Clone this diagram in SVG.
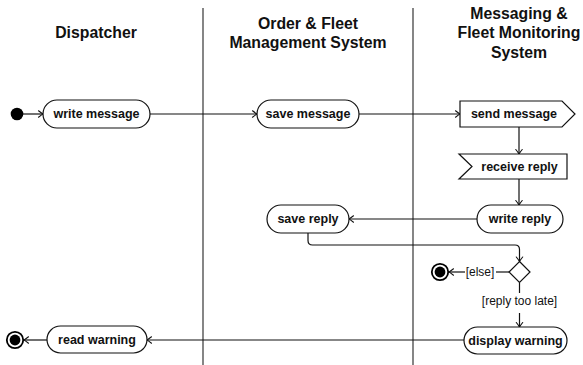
<svg xmlns="http://www.w3.org/2000/svg" width="583" height="365" viewBox="0 0 583 365">
  <style>
    .lane { stroke: #222; stroke-width: 1.1; }
    .title { font-family: "Liberation Sans", Arial, sans-serif; font-weight: bold; font-size: 15.8px; fill: #111; text-anchor: middle; }
    .act { fill: #fff; stroke: #111; stroke-width: 1.2; }
    .lbl { font-family: "Liberation Sans", Arial, sans-serif; font-weight: bold; font-size: 12.5px; fill: #111; text-anchor: middle; dominant-baseline: central; }
    .guard { font-family: "Liberation Sans", Arial, sans-serif; font-size: 12px; fill: #111; text-anchor: middle; dominant-baseline: central; }
    .edge { fill: none; stroke: #111; stroke-width: 1.2; }
    .arr { marker-end: url(#tip); }
  </style>
  <defs>
    <marker id="tip" markerUnits="userSpaceOnUse" markerWidth="10" markerHeight="10" viewBox="-6 -5 8 10" refX="0" refY="0" orient="auto">
      <path d="M-4.5,-3.2 Q-1.2,-0.6 0,0 Q-1.2,0.6 -4.5,3.2" fill="none" stroke="#111" stroke-width="1.1" stroke-linecap="round"/>
    </marker>
  </defs>

  <rect width="583" height="365" fill="#fff"/>

  <!-- swimlanes -->
  <g id="lanes">
    <line class="lane" x1="203" y1="8" x2="203" y2="365"/>
    <line class="lane" x1="413" y1="8" x2="413" y2="365"/>
    <text class="title" x="96" y="38">Dispatcher</text>
    <text class="title" x="308" y="28.5">Order &amp; Fleet</text>
    <text class="title" x="308" y="47.5">Management System</text>
    <text class="title" x="519" y="18.5">Messaging &amp;</text>
    <text class="title" x="519" y="38">Fleet Monitoring</text>
    <text class="title" x="519" y="57.5">System</text>
  </g>

  <!-- connectors -->
  <g id="connectors">
    <path class="edge arr" d="M23,114 H43"/>
    <path class="edge arr" d="M150,114 H257"/>
    <path class="edge arr" d="M359,114 H460"/>
    <path class="edge arr" d="M519,127 V154"/>
    <path class="edge arr" d="M519,179 V205"/>
    <path class="edge arr" d="M477,219 H349"/>
    <path class="edge arr" d="M308,233 V240.5 Q308,245 312.5,245 H515 Q519.5,245 519.5,249.5 V261.5"/>
    <path class="edge" d="M509,272 H496"/>
    <path class="edge arr" d="M465,272 H449"/>
    <path class="edge" d="M519.5,282.5 V293"/>
    <path class="edge arr" d="M519.5,313 V327"/>
    <path class="edge arr" d="M464,340 H147"/>
    <path class="edge arr" d="M47,340 H24"/>
    <text class="guard" x="480" y="271.5">[else]</text>
    <text class="guard" x="519.5" y="301">[reply too late]</text>
  </g>

  <!-- nodes -->
  <g id="start">
    <circle cx="17" cy="114" r="6.3" fill="#000"/>
  </g>
  <g id="write-message">
    <rect class="act" x="43" y="100" width="107" height="28" rx="14"/>
    <text class="lbl" x="96.5" y="114">write message</text>
  </g>
  <g id="save-message">
    <rect class="act" x="257" y="100" width="102" height="28" rx="14"/>
    <text class="lbl" x="308" y="114">save message</text>
  </g>
  <g id="send-message">
    <polygon class="act" points="460,101 562,101 575,114 562,127 460,127"/>
    <text class="lbl" x="514" y="114">send message</text>
  </g>
  <g id="receive-reply">
    <polygon class="act" points="459,154 567,154 567,179 459,179 472,166.5"/>
    <text class="lbl" x="519.5" y="166.5">receive reply</text>
  </g>
  <g id="write-reply">
    <rect class="act" x="477" y="205" width="86" height="28" rx="14"/>
    <text class="lbl" x="520" y="219">write reply</text>
  </g>
  <g id="save-reply">
    <rect class="act" x="267" y="205" width="82" height="28" rx="14"/>
    <text class="lbl" x="308" y="219">save reply</text>
  </g>
  <g id="decision">
    <polygon class="act" points="519.5,261.5 530,272 519.5,282.5 509,272"/>
  </g>
  <g id="end-else">
    <circle cx="440" cy="272" r="8.2" fill="#fff" stroke="#000" stroke-width="1.8"/>
    <circle cx="440" cy="272" r="5.4" fill="#000"/>
  </g>
  <g id="display-warning">
    <rect class="act" x="464" y="327" width="103" height="27" rx="13.5"/>
    <text class="lbl" x="515.5" y="340.5">display warning</text>
  </g>
  <g id="read-warning">
    <rect class="act" x="47" y="326" width="100" height="27" rx="13.5"/>
    <text class="lbl" x="97" y="339.5">read warning</text>
  </g>
  <g id="end">
    <circle cx="15" cy="340" r="8.2" fill="#fff" stroke="#000" stroke-width="1.8"/>
    <circle cx="15" cy="340" r="5.4" fill="#000"/>
  </g>
</svg>
